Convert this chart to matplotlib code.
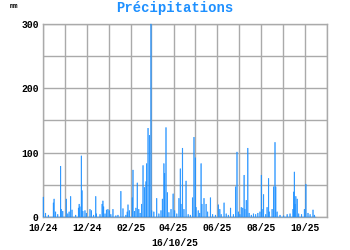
import matplotlib
matplotlib.use("Agg")
import matplotlib.pyplot as plt
import matplotlib.dates as mdates
import pandas as pd

# Rain events (date, mm); all other days are dry
rain_dates = [
    "2024-10-01", "2024-10-04", "2024-10-08", "2024-10-15", "2024-10-16", "2024-10-18",
    "2024-10-21", "2024-10-25", "2024-10-26", "2024-10-28", "2024-11-02", "2024-11-04",
    "2024-11-06", "2024-11-08", "2024-11-10", "2024-11-15", "2024-11-19", "2024-11-20",
    "2024-11-21", "2024-11-23", "2024-11-24", "2024-11-25", "2024-11-28", "2024-11-30",
    "2024-12-05", "2024-12-07", "2024-12-10", "2024-12-13", "2024-12-14", "2024-12-19",
    "2024-12-22", "2024-12-23", "2024-12-24", "2024-12-26", "2024-12-28", "2024-12-30",
    "2025-01-01", "2025-01-03", "2025-01-06", "2025-01-10", "2025-01-13", "2025-01-17",
    "2025-01-20", "2025-01-24", "2025-01-26", "2025-01-27", "2025-01-29", "2025-02-02",
    "2025-02-03", "2025-02-05", "2025-02-07", "2025-02-09", "2025-02-11", "2025-02-13",
    "2025-02-15", "2025-02-17", "2025-02-19", "2025-02-21", "2025-02-22", "2025-02-24",
    "2025-02-26", "2025-02-28", "2025-03-01", "2025-03-04", "2025-03-08", "2025-03-11",
    "2025-03-14", "2025-03-16", "2025-03-18", "2025-03-19", "2025-03-21", "2025-03-23",
    "2025-03-25", "2025-03-28", "2025-03-31", "2025-04-02", "2025-04-05", "2025-04-08",
    "2025-04-10", "2025-04-11", "2025-04-13", "2025-04-15", "2025-04-18", "2025-04-21",
    "2025-04-24", "2025-04-27", "2025-04-29", "2025-05-01", "2025-05-02", "2025-05-05",
    "2025-05-07", "2025-05-09", "2025-05-10", "2025-05-13", "2025-05-16", "2025-05-18",
    "2025-05-22", "2025-05-25", "2025-05-29", "2025-06-02", "2025-06-04", "2025-06-06",
    "2025-06-10", "2025-06-13", "2025-06-16", "2025-06-19", "2025-06-23", "2025-06-26",
    "2025-06-28", "2025-06-30", "2025-07-02", "2025-07-04", "2025-07-06", "2025-07-08",
    "2025-07-09", "2025-07-11", "2025-07-13", "2025-07-15", "2025-07-18", "2025-07-21",
    "2025-07-24", "2025-07-27", "2025-07-30", "2025-08-01", "2025-08-02", "2025-08-04",
    "2025-08-07", "2025-08-09", "2025-08-11", "2025-08-12", "2025-08-16", "2025-08-18",
    "2025-08-20", "2025-08-21", "2025-08-23", "2025-08-27", "2025-09-01", "2025-09-06",
    "2025-09-10", "2025-09-14", "2025-09-15", "2025-09-16", "2025-09-17", "2025-09-18",
    "2025-09-20", "2025-09-22", "2025-09-26", "2025-09-30", "2025-10-02", "2025-10-05",
    "2025-10-08", "2025-10-12", "2025-10-14",
]
rain_mm = [
    31, 6, 3, 22, 28, 8,
    4, 79, 12, 9, 28, 5,
    8, 32, 11, 3, 14, 20,
    16, 95, 41, 9, 10, 6,
    12, 10, 3, 32, 5, 4,
    20, 25, 16, 5, 11, 12,
    10, 4, 12, 2, 3, 40,
    13, 3, 8, 19, 10, 30,
    73, 9, 14, 53, 12, 6,
    20, 80, 46, 55, 83, 138,
    127, 300, 10, 8, 29, 5,
    10, 28, 83, 68, 139, 38,
    7, 12, 36, 10, 5, 29,
    75, 20, 107, 12, 56, 4,
    3, 30, 124, 92, 15, 10,
    6, 83, 20, 29, 20, 8,
    30, 4, 3, 19, 12, 4,
    22, 5, 3, 14, 4, 47,
    101, 8, 4, 15, 14, 65,
    12, 26, 107, 6, 3, 5,
    4, 6, 8, 65, 12, 35,
    4, 15, 60, 8, 12, 47,
    116, 47, 8, 3, 2, 4,
    5, 12, 39, 70, 20, 32,
    28, 5, 4, 12, 51, 6,
    4, 11, 3,
]
start_date = "2024-10-01"
end_date = "2025-10-16"
date_label = "16/10/25"
y_ticks = [0, 100, 200, 300]

days = pd.date_range(start_date, end_date, freq="D")
series = pd.Series(rain_mm, index=pd.to_datetime(rain_dates)).reindex(days, fill_value=0)

mono = "Liberation Mono"
blue = "#1e90ff"
grid_c = "#aaaaaa"

fig = plt.figure(figsize=(3.5, 2.5), dpi=100)
ax = fig.add_axes([43 / 350, 33 / 250, 284 / 350, 193 / 250])

ax.bar(series.index, series.values, width=1.0, align="edge", color=blue,
       edgecolor=blue, linewidth=0.3, snap=False, zorder=3, clip_on=False)

ax.set_xlim(pd.Timestamp("2024-10-01"), pd.Timestamp("2025-11-01"))
ax.set_ylim(0, 300)
ax.set_yticks(y_ticks)
ax.set_yticks([50, 150, 250], minor=True)
ax.xaxis.set_major_locator(mdates.MonthLocator(bymonth=[10, 12, 2, 4, 6, 8]))
ax.xaxis.set_minor_locator(mdates.MonthLocator())
ax.xaxis.set_major_formatter(mdates.DateFormatter("%m/%y"))

ax.grid(True, which="both", color=grid_c, linewidth=1.0, zorder=0)
ax.set_axisbelow(True)
for s in ax.spines.values():
    s.set_color(grid_c)
    s.set_linewidth(1.0)
    s.set_zorder(1)
ax.tick_params(which="both", length=0)
ax.tick_params(axis="y", pad=3)
ax.tick_params(axis="x", pad=4)
for lab in ax.get_xticklabels() + ax.get_yticklabels():
    lab.set_fontfamily(mono)
    lab.set_fontweight("bold")
    lab.set_fontsize(7)

fig.text(0.5, 1 - 8 / 250, "Précipitations", ha="center", va="center",
         fontfamily=mono, fontweight="bold", fontsize=10, color=blue)
fig.text(10 / 350, 1 - 6 / 250, "mm", ha="left", va="center",
         fontfamily=mono, fontweight="bold", fontsize=5, color="black")
fig.text(175 / 350, 1 - 243 / 250, date_label, ha="center", va="center",
         fontfamily=mono, fontweight="bold", fontsize=7, color="black")

fig.savefig("out.png", dpi=100)
